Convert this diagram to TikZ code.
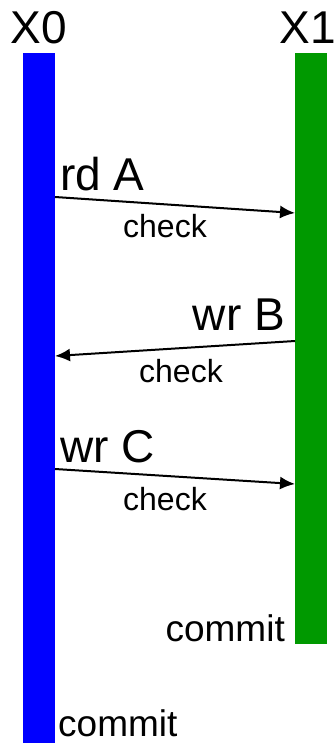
\documentclass[tikz,border=0pt]{standalone}
\usepackage{fontspec}
\setmainfont{Liberation Sans}
\usetikzlibrary{arrows.meta,positioning}
\definecolor{xzero}{RGB}{0,0,255}
\definecolor{xone}{RGB}{0,153,0}
\tikzset{bigtxt/.style={font=\fontsize{46}{50}\selectfont,inner sep=0pt},
  chk/.style={font=\fontsize{32}{36}\selectfont,inner sep=0pt},
  cmt/.style={font=\fontsize{37}{42}\selectfont,inner sep=0pt},
  msg/.style={line width=2pt,-{Latex[length=15pt,width=13pt]}}}

\begin{document}
\begin{tikzpicture}[x=1pt,y=-1pt]
  \useasboundingbox (0,0) rectangle (336,743);

  % the two threads
  \fill[xzero] (23,53) rectangle (55,743);
  \fill[xone] (295,53) rectangle (327,644);

  \node[bigtxt,anchor=base] at (39,44) (x0) {X0};
  \node[bigtxt,anchor=base] at (308,44) (x1) {X1};

  % message ends on the bars
  \coordinate (a0) at (55,197);
  \coordinate (a1) at (295,213);
  \coordinate (b1) at (295,341);
  \coordinate (b0) at (55,356);
  \coordinate (c0) at (55,469);
  \coordinate (c1) at (295,484);

  \draw[msg] (a0) -- (a1);
  \draw[msg] (b1) -- (b0);
  \draw[msg] (c0) -- (c1);

  \node[bigtxt,anchor=base west] at (60,191) (rda) {rd A};
  \node[chk,anchor=base west] at (123,237) (chka) {check};

  \node[bigtxt,anchor=base east] at (285,330) (wrb) {wr B};
  \node[chk,anchor=base west] at (139,382) (chkb) {check};

  \node[bigtxt,anchor=base west] at (60,462) (wrc) {wr C};
  \node[chk,anchor=base west] at (123,510) (chkc) {check};

  \node[cmt,anchor=base east] at (285,641) (cmt1) {commit};
  \node[cmt,anchor=base west] at (58,736) (cmt0) {commit};
\end{tikzpicture}
\end{document}
